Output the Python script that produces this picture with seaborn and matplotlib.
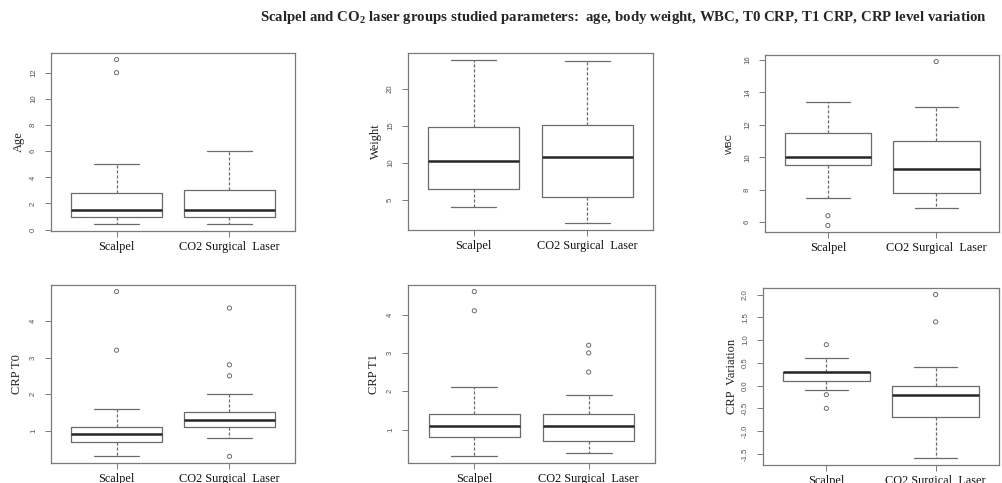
import pandas as pd
import numpy as np
import matplotlib
matplotlib.use("Agg")
import matplotlib.pyplot as plt
import seaborn as sns

# Groupes comparés
groups = ["Scalpel", "CO2 Surgical  Laser"]

# Résumés : moustache basse, Q1, médiane, Q3, moustache haute
age_scalpel = [0.4, 1.0, 1.5, 2.8, 5.0]
age_co2 = [0.4, 1.0, 1.5, 3.0, 6.0]
age_out_scalpel = [12.0, 13.0]
age_out_co2 = []

weight_scalpel = [4.0, 6.5, 10.2, 14.8, 24.0]
weight_co2 = [1.8, 5.4, 10.8, 15.2, 23.8]
weight_out_scalpel = []
weight_out_co2 = []

wbc_scalpel = [7.5, 9.5, 10.0, 11.5, 13.4]
wbc_co2 = [6.9, 7.8, 9.3, 11.0, 13.1]
wbc_out_scalpel = [6.4, 5.8]
wbc_out_co2 = [15.9]

crp0_scalpel = [0.3, 0.7, 0.9, 1.1, 1.6]
crp0_co2 = [0.8, 1.1, 1.3, 1.5, 2.0]
crp0_out_scalpel = [3.2, 4.8]
crp0_out_co2 = [2.5, 2.8, 4.35, 0.3]

crp1_scalpel = [0.3, 0.8, 1.1, 1.4, 2.1]
crp1_co2 = [0.4, 0.7, 1.1, 1.4, 1.9]
crp1_out_scalpel = [4.1, 4.6]
crp1_out_co2 = [2.5, 3.0, 3.2]

var_scalpel = [-0.1, 0.1, 0.3, 0.3, 0.6]
var_co2 = [-1.6, -0.7, -0.2, 0.0, 0.4]
var_out_scalpel = [0.9, -0.2, -0.5]
var_out_co2 = [1.4, 2.0]

# Graduations de l'axe y
age_ticks = [0, 2, 4, 6, 8, 10, 12]
weight_ticks = [5, 10, 15, 20]
wbc_ticks = [6, 8, 10, 12, 14, 16]
crp0_ticks = [1, 2, 3, 4]
crp1_ticks = [1, 2, 3, 4]
var_ticks = [-1.5, -1.0, -0.5, 0.0, 0.5, 1.0, 1.5, 2.0]

W, H = 1002, 483
LINE = "#6b6b6b"
SPINE = "#7a7a7a"

sns.set_style("white")
plt.rcParams["mathtext.default"] = "regular"

fig = plt.figure(figsize=(W / 100, H / 100), dpi=100)


def add_panel(rect_px, box_s, box_c, out_s, out_c, ticks, tick_fmt, label, label_font, label_size, label_pad):
    l, r, t, b = rect_px
    ax = fig.add_axes([l / W, 1 - b / H, (r - l) / W, (b - t) / H])

    df = pd.DataFrame({
        "group": [groups[0]] * len(box_s) + [groups[1]] * len(box_c),
        "value": box_s + box_c,
    })
    sns.boxplot(data=df, x="group", y="value", order=groups, whis=(0, 100),
                width=0.8, fill=False, color=LINE, linewidth=0.9, showfliers=False,
                medianprops=dict(color="#262626", linewidth=1.8),
                whiskerprops=dict(linestyle=(0, (2.5, 1.5))),
                capprops=dict(linestyle="-"), ax=ax)

    out = pd.DataFrame({
        "group": [groups[0]] * len(out_s) + [groups[1]] * len(out_c),
        "value": out_s + out_c,
    })
    if len(out):
        n_before = len(ax.collections)
        sns.stripplot(data=out, x="group", y="value", order=groups, jitter=False,
                      color=LINE, size=3.0, linewidth=0.7, ax=ax)
        for coll in ax.collections[n_before:]:
            coll.set_facecolor("none")
            coll.set_edgecolor(LINE)

    # étendue des axes à la manière de R (4 %)
    allv = box_s + box_c + out_s + out_c
    lo, hi = min(allv), max(allv)
    pad = 0.04 * (hi - lo)
    ax.set_ylim(lo - pad, hi + pad)
    ax.set_xlim(-0.58, 1.58)

    ax.set_yticks(ticks)
    ax.set_yticklabels([tick_fmt.format(v) for v in ticks], rotation=90, va="center",
                       fontsize=5.6, color="#555555", family="Liberation Sans")
    ax.set_xticks([0, 1])
    ax.set_xticklabels(groups, fontsize=8.8, family="Liberation Serif", color="#111111")
    ax.tick_params(axis="y", length=4, width=0.7, color=SPINE, pad=6, left=True)
    ax.tick_params(axis="x", length=4, width=0.7, color=SPINE, pad=3, bottom=True)
    ax.set_xlabel("")
    ax.set_ylabel(label, family=label_font, fontsize=label_size, color="#222222", labelpad=label_pad)
    for sp in ax.spines.values():
        sp.set_color(SPINE)
        sp.set_linewidth(0.9)
        sp.set_visible(True)
    return ax


add_panel((51, 295, 53, 231), age_scalpel, age_co2, age_out_scalpel, age_out_co2,
          age_ticks, "{:d}", "Age", "Liberation Serif", 9, 4)
add_panel((408, 653, 53, 230), weight_scalpel, weight_co2, weight_out_scalpel, weight_out_co2,
          weight_ticks, "{:d}", "Weight", "Liberation Serif", 9, 4)
add_panel((765, 999, 55, 232), wbc_scalpel, wbc_co2, wbc_out_scalpel, wbc_out_co2,
          wbc_ticks, "{:d}", "WBC", "Liberation Sans", 6.5, 7)
add_panel((51, 295, 285, 463), crp0_scalpel, crp0_co2, crp0_out_scalpel, crp0_out_co2,
          crp0_ticks, "{:d}", "CRP T0", "Liberation Serif", 9, 5)
add_panel((408, 655, 285, 463), crp1_scalpel, crp1_co2, crp1_out_scalpel, crp1_out_co2,
          crp1_ticks, "{:d}", "CRP T1", "Liberation Serif", 9, 5)
add_panel((763, 999, 288, 465), var_scalpel, var_co2, var_out_scalpel, var_out_co2,
          var_ticks, "{:.1f}", "CRP  Variation", "Liberation Serif", 9, 3)

fig.text(0.622, 0.963,
         "Scalpel and CO$_2$ laser groups studied parameters:  age, body weight, WBC, T0 CRP, T1 CRP, CRP level variation",
         ha="center", va="center", fontsize=10.7, fontweight="bold", family="Liberation Serif")

fig.savefig("out.png", dpi=100)
